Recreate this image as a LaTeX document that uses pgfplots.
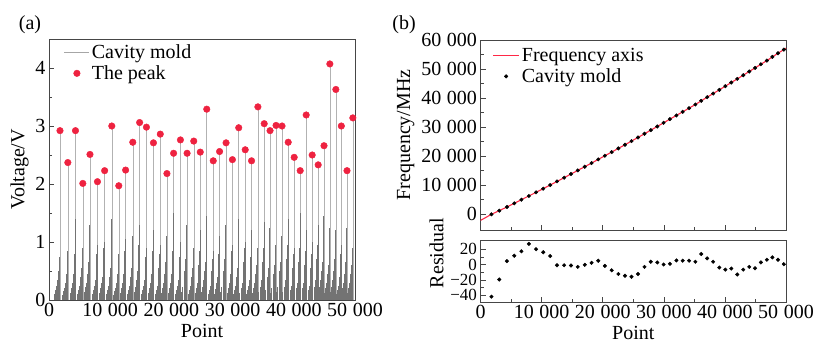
\documentclass[border=0pt]{standalone}
\usepackage{pgfplots}
\pgfplotsset{compat=1.18}
\usepackage{pgfplotstable}
\usepackage{fontspec}
\setmainfont{Liberation Serif}
\definecolor{peakred}{RGB}{238,34,64}
\definecolor{fitred}{RGB}{255,40,70}
\definecolor{framegray}{RGB}{70,70,70}

\pgfplotsset{
  dotlegA/.style={legend image code/.code={\draw[mark repeat=2,mark phase=2,##1] plot coordinates {(0bp,0bp) (12.5bp,0bp) (25bp,0bp)};}},
  dotlegB/.style={legend image code/.code={\draw[mark repeat=2,mark phase=2,##1] plot coordinates {(0bp,0bp) (13bp,0bp) (26bp,0bp)};}},
}

% cavity-mode peaks: position (point), voltage
\pgfplotstableread{
x v
1796 2.92
3076 2.37
4328 2.92
5526 2.01
6696 2.51
7920 2.04
9091 2.23
10262 3.00
11405 1.97
12520 2.24
13690 2.72
14807 3.06
15922 2.98
17066 2.71
18182 2.86
19270 2.18
20359 2.53
21475 2.76
22564 2.53
23653 2.74
24715 2.55
25776 3.29
26838 2.40
27872 2.56
28933 2.71
29968 2.42
31002 2.97
32063 2.59
33098 2.40
34132 3.33
35166 3.04
36119 2.92
37099 3.01
38078 3.00
39086 2.72
40066 2.46
41046 2.23
42025 3.19
43005 2.50
43985 2.33
44938 2.66
45890 4.07
46870 3.63
47768 3.00
48694 2.23
49647 3.14
}\peaks

% smaller spectral spikes between the peaks
\pgfplotstableread{
a1 h1 a2 h2 a3 h3 a4 h4 a5 h5 a6 h6 a7 h7
1736 0.75 1646 0.70 1536 0.50 1406 0.35 1256 0.25 1076 0.18 896 0.10
3016 0.85 2926 0.65 2816 0.45 2686 0.30 2536 0.20 2356 0.15 2176 0.09
4268 1.40 4178 0.80 4068 0.60 3938 0.45 3788 0.30 3608 0.20 3428 0.12
5466 0.90 5376 0.75 5266 0.55 5136 0.40 4986 0.25 4806 0.17 4626 0.11
6636 1.30 6546 0.85 6436 0.65 6306 0.45 6156 0.30 5976 0.22 5796 0.13
7860 0.95 7770 0.80 7660 0.50 7530 0.35 7380 0.25 7200 0.18 7020 0.10
9031 1.00 8941 0.90 8831 0.60 8701 0.40 8551 0.30 8371 0.20 8191 0.12
10202 1.40 10112 0.75 10002 0.55 9872 0.40 9722 0.25 9542 0.17 9362 0.11
11345 0.80 11255 0.70 11145 0.45 11015 0.30 10865 0.20 10685 0.15 10505 0.09
12460 1.05 12370 0.85 12260 0.60 12130 0.45 11980 0.30 11800 0.20 11620 0.12
13630 1.10 13540 0.80 13430 0.55 13300 0.40 13150 0.25 12970 0.18 12790 0.11
14747 1.30 14657 0.95 14547 0.70 14417 0.50 14267 0.35 14087 0.22 13907 0.13
15862 0.90 15772 0.75 15662 0.50 15532 0.35 15382 0.25 15202 0.17 15022 0.10
17006 1.20 16916 0.85 16806 0.60 16676 0.45 16526 0.30 16346 0.20 16166 0.12
18122 0.95 18032 0.80 17922 0.55 17792 0.40 17642 0.25 17462 0.18 17282 0.11
19210 1.10 19120 0.90 19010 0.65 18880 0.45 18730 0.30 18550 0.21 18370 0.12
20299 1.50 20209 0.85 20099 0.60 19969 0.45 19819 0.30 19639 0.20 19459 0.12
21415 1.00 21325 0.75 21215 0.50 21085 0.35 20935 0.25 20755 0.17 20575 0.10
22504 1.30 22414 0.95 22304 0.70 22174 0.50 22024 0.35 21844 0.22 21664 0.13
23593 0.90 23503 0.80 23393 0.55 23263 0.40 23113 0.25 22933 0.18 22753 0.11
24655 1.20 24565 0.85 24455 0.60 24325 0.45 24175 0.30 23995 0.20 23815 0.12
25716 1.45 25626 0.90 25516 0.65 25386 0.50 25236 0.35 25056 0.22 24876 0.13
26778 0.85 26688 0.70 26578 0.50 26448 0.35 26298 0.25 26118 0.17 25938 0.10
27812 1.10 27722 0.80 27612 0.55 27482 0.40 27332 0.30 27152 0.19 26972 0.11
28873 1.30 28783 0.95 28673 0.70 28543 0.50 28393 0.35 28213 0.22 28033 0.13
29908 0.95 29818 0.85 29708 0.60 29578 0.45 29428 0.30 29248 0.20 29068 0.12
30942 1.40 30852 0.80 30742 0.55 30612 0.40 30462 0.25 30282 0.18 30102 0.11
32003 1.00 31913 0.90 31803 0.65 31673 0.45 31523 0.30 31343 0.21 31163 0.12
33038 1.20 32948 0.75 32838 0.50 32708 0.35 32558 0.25 32378 0.17 32198 0.10
34072 0.90 33982 0.85 33872 0.60 33742 0.45 33592 0.30 33412 0.20 33232 0.12
35106 1.35 35016 0.90 34906 0.65 34776 0.50 34626 0.35 34446 0.22 34266 0.13
36059 1.25 35969 0.80 35859 0.55 35729 0.40 35579 0.25 35399 0.18 35219 0.11
37039 0.95 36949 0.85 36839 0.60 36709 0.45 36559 0.30 36379 0.20 36199 0.12
38018 1.10 37928 0.90 37818 0.65 37688 0.50 37538 0.35 37358 0.22 37178 0.13
39026 1.40 38936 0.95 38826 0.70 38696 0.50 38546 0.35 38366 0.22 38186 0.13
40006 0.90 39916 0.80 39806 0.55 39676 0.40 39526 0.25 39346 0.18 39166 0.11
40986 1.50 40896 0.90 40786 0.65 40656 0.45 40506 0.30 40326 0.20 40146 0.12
41965 1.20 41875 0.85 41765 0.60 41635 0.45 41485 0.30 41305 0.20 41125 0.12
42945 1.00 42855 0.80 42745 0.55 42615 0.40 42465 0.25 42285 0.18 42105 0.11
43925 1.30 43835 0.95 43725 0.70 43595 0.50 43445 0.35 43265 0.22 43085 0.13
44878 1.45 44788 0.90 44678 0.65 44548 0.50 44398 0.35 44218 0.22 44038 0.13
45830 1.25 45740 0.85 45630 0.60 45500 0.45 45350 0.30 45170 0.20 44990 0.12
46810 1.20 46720 0.95 46610 0.70 46480 0.50 46330 0.35 46150 0.22 45970 0.13
47708 0.95 47618 0.80 47508 0.55 47378 0.40 47228 0.25 47048 0.18 46868 0.11
48634 1.25 48544 0.90 48434 0.65 48304 0.45 48154 0.30 47974 0.20 47794 0.12
49587 0.90 49497 0.85 49387 0.60 49257 0.45 49107 0.30 48927 0.20 48747 0.12
}\spikes

% cavity modes: position, frequency (MHz), residual (MHz)
\pgfplotstableread{
x f r
1796 0 -42
3076 1260 -19.6
4328 2520 4.4
5526 3780 11.5
6696 5040 17.3
7920 6300 27
9091 7560 20
10262 8820 16
11405 10080 11
12520 11340 -1
13690 12600 -1
14807 13860 -1.3
15922 15120 -3.1
17066 16380 -0.4
18182 17640 2.2
19270 18900 4.9
20359 20160 -1.8
21475 21420 -7.6
22564 22680 -12.4
23653 23940 -14.7
24715 25200 -16
25776 26460 -12.4
26838 27720 -3.1
27872 28980 3.6
28933 30240 2.7
29968 31500 0
31002 32760 0.9
32063 34020 5.3
33098 35280 5
34132 36540 5
35166 37800 3.6
36119 39060 13.7
37099 40320 8
38078 41580 3.6
39086 42840 -4
40066 44100 -6.7
41046 45360 -5.3
42025 46620 -13
43005 47880 -6.7
43985 49140 -3.1
44938 50400 -4.9
45890 51660 2.7
46870 52920 6.2
47768 54180 9.3
48694 55440 6.2
49647 56700 0.4
}\modes

% fitted frequency axis
\pgfplotstableread{
x f
0 -2100
1796 0
4328 2520
6696 5040
9091 7560
11405 10080
13690 12600
15922 15120
18182 17640
20359 20160
22564 22680
24715 25200
26838 27720
28933 30240
31002 32760
33098 35280
35166 37800
37099 40320
39086 42840
41046 45360
43005 47880
44938 50400
46870 52920
48694 55440
49647 56700
50000 57180
}\fitline

\begin{document}
\begin{tikzpicture}[font=\fontsize{20bp}{24bp}\selectfont]
\path[use as bounding box] (0bp,0bp) rectangle (815bp,-344bp);
\pgfplotsset{every axis/.append style={
  scale only axis,
  font=\fontsize{20bp}{24bp}\selectfont,
  axis line style={framegray,line width=0.8bp},
  tick style={framegray,line width=0.6bp},
  tick align=inside,
  major tick length=5bp, minor tick length=3bp,
  xtick pos=left, ytick pos=left,
  scaled ticks=false,
  /pgf/number format/assume math mode=true,
  /pgf/number format/1000 sep={\hspace{0.28em}},
  xmin=0, xmax=50000,
  xtick={0,10000,20000,30000,40000,50000},
  minor xtick={5000,15000,25000,35000,45000},
  legend cell align=left,
  legend style={draw=none,fill=none,font=\fontsize{20bp}{24bp}\selectfont,
    anchor=north west,inner sep=1bp,row sep=2bp},
}}

% ---------- panel (a)
\begin{axis}[at={(49bp,-300bp)},anchor=south west,width=306bp,height=261bp,
  ymin=0,ymax=4.5,ytick={0,1,2,3,4},minor ytick={0.5,1.5,2.5,3.5},
  xlabel={Point},ylabel={Voltage/V},
  legend style={at={(0.045,0.992)}}]
\addplot[ycomb,color=gray!60,line width=0.5bp,
  legend image code/.code={\draw[draw=gray!70,line width=0.9bp] (0bp,0bp) -- (25bp,0bp);}]
  table[x=x,y=v]{\peaks};
\addlegendentry{Cavity mold}
\addplot[ycomb,color=black!55,line width=0.45bp,forget plot] table[x=a1,y=h1]{\spikes};
\addplot[ycomb,color=black!55,line width=0.45bp,forget plot] table[x=a2,y=h2]{\spikes};
\addplot[ycomb,color=black!55,line width=0.45bp,forget plot] table[x=a3,y=h3]{\spikes};
\addplot[ycomb,color=black!55,line width=0.45bp,forget plot] table[x=a4,y=h4]{\spikes};
\addplot[ycomb,color=black!55,line width=0.45bp,forget plot] table[x=a5,y=h5]{\spikes};
\addplot[ycomb,color=black!55,line width=0.45bp,forget plot] table[x=a6,y=h6]{\spikes};
\addplot[ycomb,color=black!55,line width=0.45bp,forget plot] table[x=a7,y=h7]{\spikes};
\addplot[only marks,mark=*,mark size=3.3bp,color=peakred,dotlegA]
  table[x=x,y=v]{\peaks};
\addlegendentry{The peak}
\end{axis}

% ---------- panel (b) top
\begin{axis}[at={(480.5bp,-230bp)},anchor=south west,width=305.5bp,height=190bp,
  ymin=-5400,ymax=60000,ytick={0,10000,20000,30000,40000,50000,60000},
  minor ytick={5000,15000,25000,35000,45000,55000},
  xticklabels={},ylabel={Frequency/MHz},
  legend style={at={(0.035,0.975)}}]
\addplot[fitred,line width=1.1bp,
  legend image code/.code={\draw[draw=fitred,line width=1.5bp] (0bp,0bp) -- (26bp,0bp);}]
  table[x=x,y=f]{\fitline};
\addlegendentry{Frequency axis}
\addplot[only marks,mark=*,mark size=1.8bp,black,dotlegB]
  table[x=x,y=f]{\modes};
\addlegendentry{Cavity mold}
\end{axis}

% ---------- panel (b) residual
\begin{axis}[at={(480.5bp,-302bp)},anchor=south west,width=305.5bp,height=62bp,
  ymin=-49,ymax=32,ytick={-40,-20,0,20},yticklabels={−40,−20,0,20},
  minor ytick={-30,-10,10},
  yticklabel style={font=\fontsize{17bp}{17bp}\selectfont,inner ysep=0bp},
  xlabel={Point},ylabel={Residual},
  ylabel style={xshift=18bp}]
\addplot[only marks,mark=*,mark size=1.8bp,black] table[x=x,y=r]{\modes};
\end{axis}

\node at (30bp,-25bp) {(a)};
\node at (404bp,-25bp) {(b)};
\end{tikzpicture}
\end{document}
